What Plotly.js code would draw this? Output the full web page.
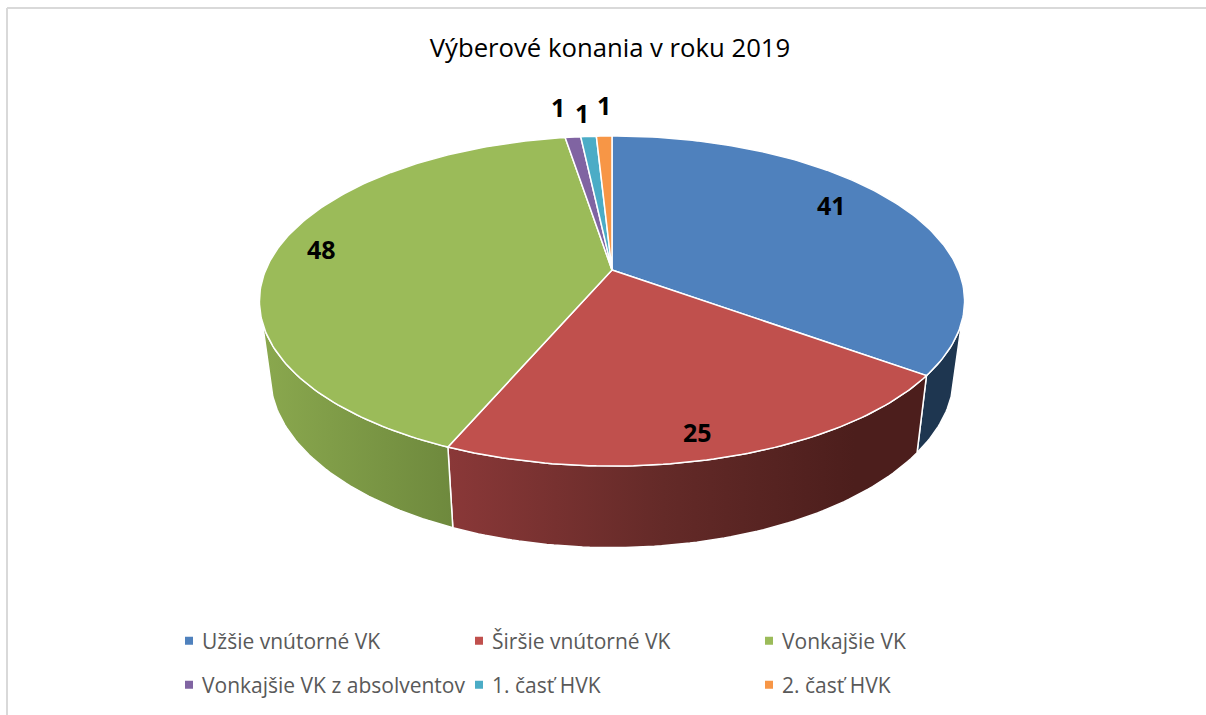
<!DOCTYPE html>
<html><head><meta charset="utf-8">
<script src="https://cdn.plot.ly/plotly-3.0.1.min.js"></script>
<style>html,body{margin:0;padding:0;background:#fff}#c{width:1206px;height:715px}.legendsymbols{transform:translate(7px,0)}</style>
</head><body><div id="c"></div>
<script>
const categories = ["Užšie vnútorné VK","Širšie vnútorné VK","Vonkajšie VK","Vonkajšie VK z absolventov","1. časť HVK","2. časť HVK"];
const values = [41,25,48,1,1,1];
const colors = ["#4f81bd","#c0504d","#9bbb59","#8064a2","#4bacc6","#f79646"];
const chartTitle = "Výberové konania v roku 2019";
const labelX = [831,697,321,558,582,604];
const labelY = [205,432,249,107,113,105];
const wallGradients = [
  [[0,"#1e3650"],[1,"#1e3650"]],
  [[0,"#8a3838"],[0.45,"#642a28"],[0.85,"#4c1e1c"],[1,"#4c1e1c"]],
  [[0,"#8aa84e"],[1,"#6e893d"]],
  null,null,null];

// perspective view of the pie's disc
const cx=612, cy=270, R=346.3, B=159.2, k=0.1879;
const botCy=342, botB=167, botS=0.97;
const toRad=Math.PI/180;
function topRim(t){const u=Math.sin(t*toRad),v=Math.cos(t*toRad),d=1+k*v;return [cx+R*u/d,cy-B*v/d];}
function botRim(t){const u=Math.sin(t*toRad),v=Math.cos(t*toRad),d=1+k*v;return [cx+botS*R*u/d,botCy-botB*v/d];}
function arc(f,a,b){const n=Math.max(2,Math.ceil(Math.abs(b-a)));const p=[];for(let i=0;i<=n;i++)p.push(f(a+(b-a)*i/n));return p;}

const total=values.reduce((a,b)=>a+b,0);
const noHover={hoverinfo:"skip",showlegend:false};
const walls=[],tops=[],keys=[];
let acc=0;
values.forEach((val,i)=>{
  const a=acc/total*360, b=(acc+val)/total*360; acc+=val;
  const a2=Math.max(a,108), b2=Math.min(b,252);
  if(wallGradients[i] && b2>a2){
    const pts=arc(topRim,a2,b2).concat(arc(botRim,b2,a2));pts.push(pts[0]);
    walls.push(Object.assign({type:"scatter",mode:"lines",x:pts.map(p=>p[0]),y:pts.map(p=>p[1]),
      fill:"toself",fillgradient:{type:"horizontal",colorscale:wallGradients[i]},
      line:{color:"#ffffff",width:1.5}},noHover));
  }
  const pts=[[cx,cy]].concat(arc(topRim,a,b));pts.push([cx,cy]);
  tops.push(Object.assign({type:"scatter",mode:"lines",x:pts.map(p=>p[0]),y:pts.map(p=>p[1]),
    fill:"toself",fillcolor:colors[i],line:{color:"#ffffff",width:1.5}},noHover));
  keys.push({type:"scatter",mode:"markers",x:[null],y:[null],name:categories[i],
    marker:{symbol:"square",size:8,color:colors[i]},legend:i<3?"legend":"legend2",hoverinfo:"skip"});
});

const legendBase={orientation:"h",xref:"paper",yref:"paper",xanchor:"left",yanchor:"middle",
  entrywidth:252,entrywidthmode:"pixels",indentation:-7,traceorder:"normal",
  bgcolor:"rgba(0,0,0,0)",font:{family:"Open Sans",size:21,color:"#595959"}};
const layout={
  width:1206,height:715,margin:{l:0,r:0,t:0,b:0},
  paper_bgcolor:"#ffffff",plot_bgcolor:"#ffffff",
  title:{text:chartTitle,x:610/1206,xanchor:"center",y:1-48/715,yanchor:"middle",
    font:{family:"Open Sans",size:25.7,color:"#000000"}},
  xaxis:{range:[0,1206],visible:false,fixedrange:true},
  yaxis:{range:[715,0],visible:false,fixedrange:true},
  legend:Object.assign({x:169/1206,y:1-641/715},legendBase),
  legend2:Object.assign({x:169/1206,y:1-685/715},legendBase),
  shapes:[
    {type:"line",xref:"x",yref:"y",x0:7,x1:1206,y0:8,y1:8,line:{color:"#d9d9d9",width:2},layer:"below"},
    {type:"line",xref:"x",yref:"y",x0:7,x1:7,y0:8,y1:715,line:{color:"#d9d9d9",width:2},layer:"below"}],
  annotations:values.map((v,i)=>({xref:"x",yref:"y",x:labelX[i],y:labelY[i],text:String(v),showarrow:false,
    font:{family:"Open Sans",size:25,color:"#000000",weight:700}}))
};
Plotly.newPlot("c",walls.concat(tops,keys),layout,{displayModeBar:false,staticPlot:true});
</script></body></html>
